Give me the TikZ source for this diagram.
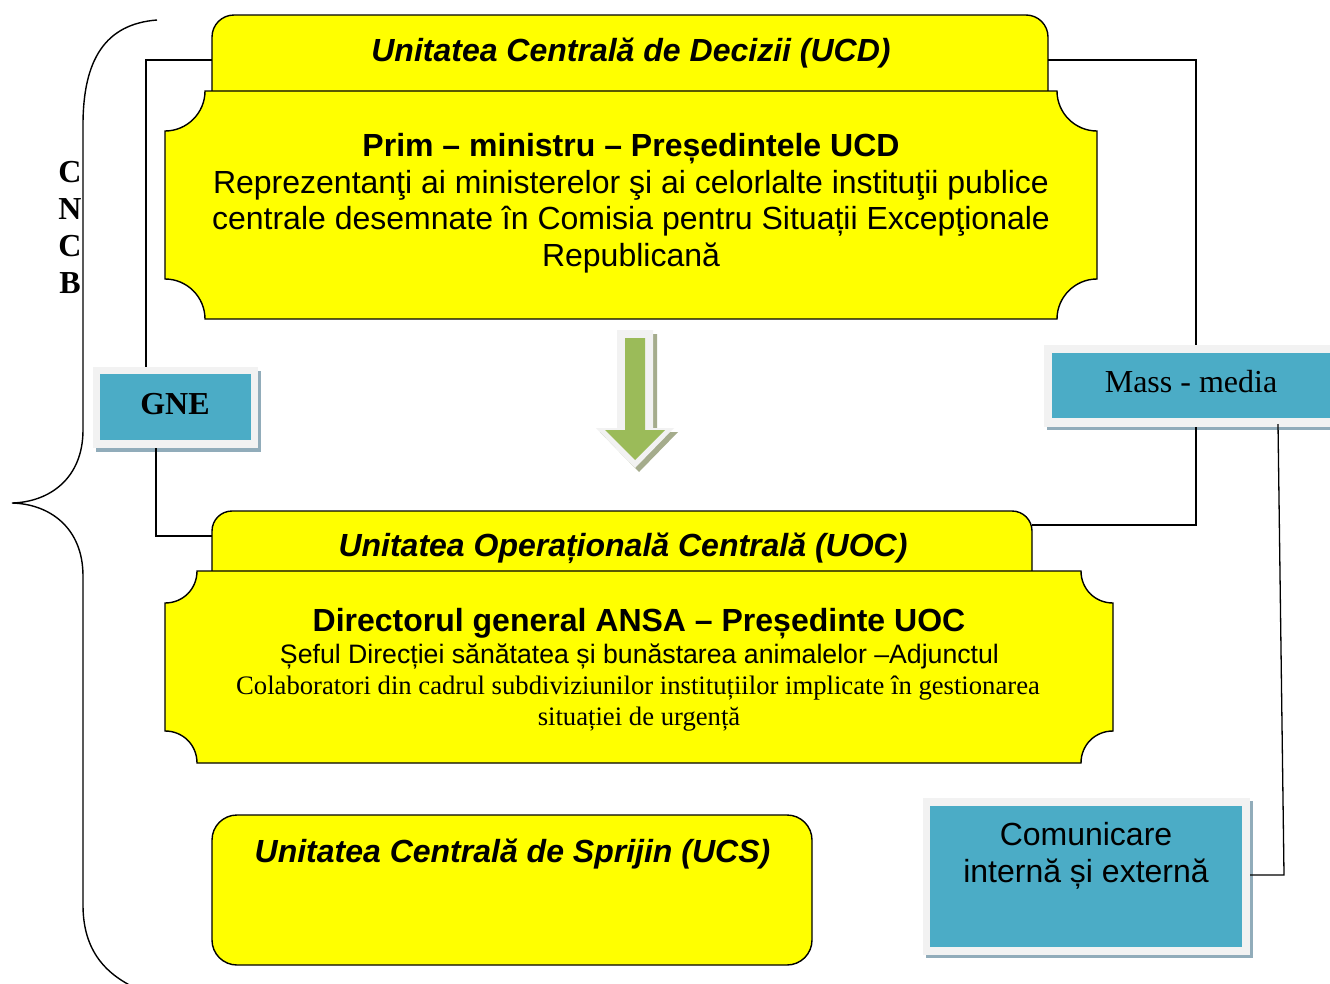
\documentclass[tikz,border=0pt]{standalone}
\usepackage{fontspec}
\setmainfont{Liberation Serif}
\newfontfamily\arialf{Liberation Sans}
\definecolor{ylw}{RGB}{255,255,0}
\definecolor{blu}{RGB}{75,172,198}
\definecolor{frm}{RGB}{242,242,242}
\definecolor{shd}{RGB}{145,172,186}
\definecolor{grn}{RGB}{155,187,89}
\definecolor{ashd}{RGB}{165,172,140}
\begin{document}
\begin{tikzpicture}[x=1pt,y=-1pt,
  yshape/.style={fill=ylw,draw=black,line width=1.4pt},
  conn/.style={draw=black,line width=1.3pt},
  bluebox/.style={fill=blu,draw=none,inner sep=0pt},
  hdr/.style={anchor=base,inner sep=0pt,font=\arialf\bfseries\itshape\fontsize{32}{37}\selectfont},
  bodyb/.style={anchor=base,inner sep=0pt,font=\arialf\bfseries\fontsize{32}{37}\selectfont},
  bodyr/.style={anchor=base,inner sep=0pt,font=\arialf\fontsize{32}{37}\selectfont},
  smalls/.style={anchor=base,inner sep=0pt,font=\arialf\fontsize{26.67}{31}\selectfont},
  smallr/.style={anchor=base,inner sep=0pt,font=\fontsize{26.67}{31}\selectfont}]
\clip (0,0) rectangle (1330,983);
\fill[white] (0,0) rectangle (1330,983);

% brace
\draw[line width=1.4pt] (157,20) .. controls (105,24) and (83,60) .. (83,125) -- (83,430)
  .. controls (83,478) and (50,502) .. (12,503)
  .. controls (50,504) and (83,528) .. (83,576) -- (83,905)
  .. controls (83,950) and (105,975) .. (140,990);
\node[inner sep=0pt,align=center,font=\bfseries\fontsize{32}{37}\selectfont] (cncb) at (70,227) {C\\N\\C\\B};

% UCD
\draw[yshape,rounded corners=22pt] (212,100) -- (212,15) -- (1048,15) -- (1048,100);
\draw[yshape] (205,91) -- (1057,91) .. controls (1057,113) and (1075,131) .. (1097,131)
  -- (1097,279) .. controls (1075,279) and (1057,297) .. (1057,319)
  -- (205,319) .. controls (205,297) and (187,279) .. (165,279)
  -- (165,131) .. controls (187,131) and (205,113) .. (205,91) -- cycle;
\node[hdr] (ucdt) at (631,61) {Unitatea Centrală de Decizii (UCD)};
\node[bodyb] (ucd1) at (631,156) {Prim – ministru – Președintele UCD};
\node[bodyr] (ucd2) at (631,193) {Reprezentanţi ai ministerelor şi ai celorlalte instituţii publice};
\node[bodyr] (ucd3) at (631,229) {centrale desemnate în Comisia pentru Situații Excepţionale};
\node[bodyr] (ucd4) at (631,266) {Republicană};

% UOC
\draw[yshape,rounded corners=20pt] (212,580) -- (212,511) -- (1032,511) -- (1032,580);
\draw[yshape] (197,571) -- (1081,571) .. controls (1081,589) and (1095,603) .. (1113,603)
  -- (1113,731) .. controls (1095,731) and (1081,745) .. (1081,763)
  -- (197,763) .. controls (197,745) and (183,731) .. (165,731)
  -- (165,603) .. controls (183,603) and (197,589) .. (197,571) -- cycle;
\node[hdr] (uoct) at (623,556) {Unitatea Operațională Centrală (UOC)};
\node[bodyb] (uoc1) at (639,631) {Directorul general ANSA – Președinte UOC};
\node[smalls] (uoc2) at (639.5,663) {Șeful Direcției sănătatea și bunăstarea animalelor –Adjunctul};
\node[smallr] (uoc3) at (638,694) {Colaboratori din cadrul subdiviziunilor instituțiilor implicate în gestionarea};
\node[smallr] (uoc4) at (639,725) {situației de urgență};

% UCS
\draw[yshape,rounded corners=25pt] (212,815) rectangle (812,965);
\node[hdr] (ucst) at (512.5,862) {Unitatea Centrală de Sprijin (UCS)};

% arrow
\fill[ashd] (621,334) -- (657,334) -- (657,432) -- (678,432) -- (639,472) -- (600,432) -- (621,432) -- cycle;
\fill[frm] (617,330) -- (653,330) -- (653,428) -- (674,428) -- (635,468) -- (596,428) -- (617,428) -- cycle;
\fill[grn] (625,338) -- (645,338) -- (645,430) -- (665,430) -- (635,460) -- (605,430) -- (625,430) -- cycle;

% GNE
\fill[shd] (96,371) rectangle (261,452);
\fill[frm] (93,367) rectangle (258,448);
\node[bluebox,minimum width=151pt,minimum height=66pt,font=\bfseries\fontsize{32}{37}\selectfont] (gne) at (175,407) {\raisebox{7pt}{GNE}};

% Mass-media
\fill[shd] (1047,349) rectangle (1333,430);
\fill[frm] (1044,345) rectangle (1330,427);
\node[bluebox,minimum width=278pt,minimum height=65pt,font=\fontsize{32}{37}\selectfont] (mm) at (1191,385.5) {\raisebox{8pt}{Mass - media}};

% Comunicare
\fill[shd] (926,801) rectangle (1253,958);
\fill[frm] (923,798) rectangle (1250,955);
\node[bluebox,minimum width=312pt,minimum height=141pt] (com) at (1086,876.5) {};
\node[bodyr] (com1) at (1086,845) {Comunicare};
\node[bodyr] (com2) at (1086,882) {internă și externă};

% connector end points
\coordinate (ucdL) at (212,60);
\coordinate (ucdR) at (1048,60);
\coordinate (gneT) at (146,367);
\coordinate (gneB) at (156,448);
\coordinate (uocL) at (212,536);
\coordinate (uocR) at (1032,525);
\coordinate (mmT) at (1196,345);
\coordinate (mmB) at (1196,427);
\coordinate (mmB2) at (1278,424);
\coordinate (bend) at (1284,875);
\coordinate (comR) at (1250,875);

\draw[conn] (ucdL) -| (gneT);
\draw[conn] (gneB) |- (uocL);
\draw[conn] (ucdR) -| (mmT);
\draw[conn] (mmB) |- (uocR);
\draw[conn] (mmB2) -- (bend) -- (comR);
\end{tikzpicture}
\end{document}
